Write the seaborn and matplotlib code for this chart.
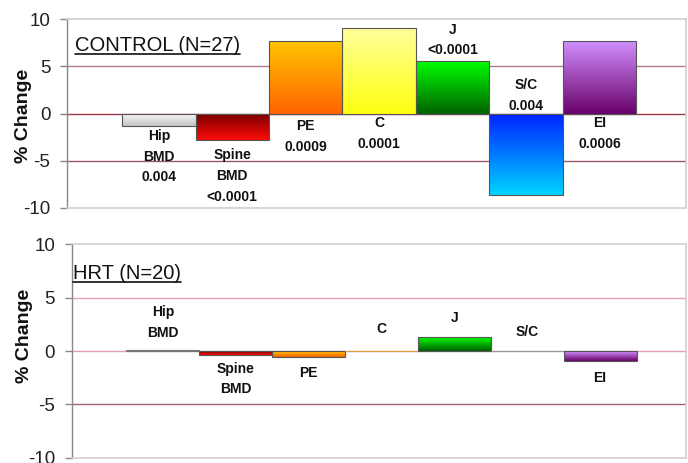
import numpy as np
import pandas as pd
import matplotlib
matplotlib.use("Agg")
import matplotlib.pyplot as plt
import seaborn as sns
from matplotlib.colors import to_rgb
from matplotlib.lines import Line2D

# ---------------- data ----------------
categories = ["Hip BMD", "Spine BMD", "PE", "C", "J", "S/C", "EI"]
control_values = [-1.3, -2.75, 7.65, 9.07, 5.53, -8.6, 7.72]
hrt_values = [0.05, -0.37, -0.55, 0.03, 1.3, 0.03, -0.93]
control_labels = ["Hip\nBMD\n0.004", "Spine\nBMD\n<0.0001", "PE\n0.0009", "C\n0.0001",
                  "J\n<0.0001", "S/C\n0.004", "EI\n0.0006"]
hrt_labels = ["Hip\nBMD", "Spine\nBMD", "PE", "C", "J", "S/C", "EI"]
y_ticks = [-10, -5, 0, 5, 10]
panel_titles = ["CONTROL (N=27)", "HRT (N=20)"]

# ---------------- style ----------------
grad_top = ["#FAFAFA", "#7A0000", "#FFC400", "#FFFF9A", "#00FF00", "#0020FF", "#D090FF"]
grad_bot = ["#C4C4C4", "#FF0A0A", "#FF6400", "#FFFF10", "#006000", "#00D4FF", "#680068"]
base_colors = ["#E0E0E0", "#C00000", "#FF9900", "#FFFF55", "#00AA00", "#0080FF", "#A040B0"]
thin_edge = ["#777777", "#555555", "#555555", "#E0A040", "#555555", "#999999", "#555555"]

sns.set_style("white")
plt.rcParams["font.family"] = ["Liberation Sans", "DejaVu Sans"]

fig = plt.figure(figsize=(6.88, 4.63), dpi=100)
ax1 = fig.add_axes([0.0974, 0.5508, 0.900, 0.408])
ax2 = fig.add_axes([0.1042, 0.0108, 0.893, 0.4622])


def draw_panel(ax, values, labels, label_y, grid_cols, ylabel_xy, title, title_xy):
    df = pd.DataFrame({"cat": categories, "val": values})
    sns.barplot(data=df, x="cat", y="val", hue="cat", order=categories,
                hue_order=categories, palette=base_colors, width=1.0,
                legend=False, saturation=1, ax=ax, edgecolor="#555555",
                linewidth=0.8)
    for p in list(ax.patches):
        x0, w = p.get_x(), p.get_width()
        y0, h = p.get_y(), p.get_height()
        i = int(round(x0 + w / 2))
        top = np.array(to_rgb(grad_top[i]))
        bot = np.array(to_rgb(grad_bot[i]))
        t = np.linspace(0, 1, 256)[:, None, None]
        g = top[None, None, :] * (1 - t) + bot[None, None, :] * t
        ylo, yhi = min(y0, y0 + h), max(y0, y0 + h)
        im = ax.imshow(g, extent=[x0, x0 + w, ylo, yhi], origin="upper",
                       aspect="auto", zorder=2.5, interpolation="bilinear")
        im.set_clip_path(p)
        p.set_facecolor("none")
        p.set_zorder(3)
        if abs(h) < 0.1:
            p.set_edgecolor(thin_edge[i])

    for yv, c in zip([5, 0, -5], grid_cols):
        ax.axhline(yv, color=c, lw=1.0, zorder=1)

    for i, (lab, ly) in enumerate(zip(labels, label_y)):
        ax.text(i, ly, lab, ha="center", va="center", fontsize=10,
                fontweight="bold", color="#111111", linespacing=1.6, zorder=5)

    ax.set_xlim(-1.25, 7.18)
    ax.set_ylim(-10, 10)
    ax.set_yticks(y_ticks)
    ax.set_yticklabels([str(v) for v in y_ticks])
    ax.set_xticks([])
    ax.set_xlabel("")
    ax.set_ylabel("% Change", fontsize=14, fontweight="bold", color="#111111")
    ax.yaxis.set_label_coords(*ylabel_xy)
    ax.tick_params(axis="y", left=True, length=5, width=1, color="#888888",
                   labelsize=13.5, pad=7, labelcolor="#222222")
    ax.spines["left"].set_color("#888888")
    ax.spines["left"].set_linewidth(1.0)
    for s in ["top", "right", "bottom"]:
        ax.spines[s].set_color("#CFCFCF")
        ax.spines[s].set_linewidth(1.2)

    txt = ax.text(title_xy[0], title_xy[1], title, transform=ax.transAxes,
                  fontsize=14.5, ha="left", va="baseline", color="#111111",
                  zorder=6)
    return txt


t1 = draw_panel(ax1, control_values, control_labels,
                [-4.55, -6.61, -2.43, -2.12, 7.78, 1.90, -2.12],
                ["#B07A85", "#9A3A48", "#9A5A66"], (-0.056, 0.49),
                panel_titles[0], (0.013, 0.832))
t2 = draw_panel(ax2, hrt_values, hrt_labels,
                [2.67, -2.63, -2.07, 2.03, 3.06, 1.75, -2.53],
                ["#E8A0AE", "#E0A0B0", "#A06070"], (-0.063, 0.572),
                panel_titles[1], (0.0016, 0.835))

# underline the panel titles
fig.canvas.draw()
renderer = fig.canvas.get_renderer()
for ax, t in [(ax1, t1), (ax2, t2)]:
    bb = t.get_window_extent(renderer)
    _, by = ax.transAxes.transform(t.get_position())
    ybase = by - 3.0
    inv = fig.transFigure.inverted()
    (fx0, fy), (fx1, _) = inv.transform([(bb.x0, ybase), (bb.x1, ybase)])
    fig.add_artist(Line2D([fx0, fx1], [fy, fy], color="#111111", lw=1.2))

fig.savefig("out.png", dpi=100)
